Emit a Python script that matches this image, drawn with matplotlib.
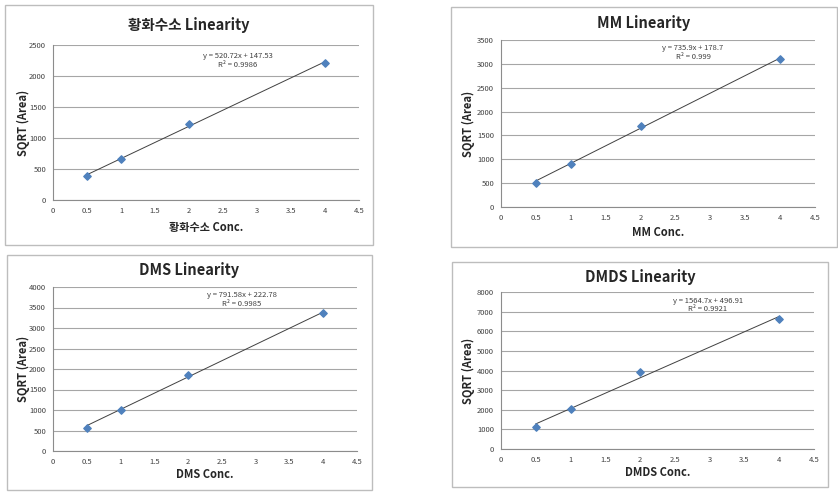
"""Four Excel-style linearity charts (sulfur compounds calibration)."""

import numpy as np
import matplotlib
matplotlib.use("Agg")
import matplotlib.pyplot as plt
from matplotlib.patches import Rectangle

plt.rcParams['font.family'] = ['Noto Sans CJK KR', 'DejaVu Sans']

W, H = 838, 497

conc = [0.5, 1, 2, 4]

h2s_area = [380, 665, 1230, 2215]
mm_area = [510, 910, 1690, 3105]
dms_area = [570, 1010, 1860, 3360]
dmds_area = [1100, 2050, 3920, 6630]

names = ["황화수소", "MM", "DMS", "DMDS"]
slopes = [520.72, 735.9, 791.58, 1564.7]
intercepts = [147.53, 178.7, 222.78, 496.91]
r2_values = ["0.9986", "0.999", "0.9985", "0.9921"]
y_max = [2500, 3500, 4000, 8000]
y_step = [500, 500, 500, 1000]
x_ticks = [0, 0.5, 1, 1.5, 2, 2.5, 3, 3.5, 4, 4.5]

# pixel layout: box (l, t, r, b), axes (l, t, r, b), title y, xlabel y, ylabel x, eq (x, y1, y2)
layout = [
    dict(box=(5, 5, 373, 245), ax=(53, 45, 359, 200), title_y=25, xl_y=228, yl_x=23, eq=(238, 56, 65)),
    dict(box=(451, 7, 837, 247), ax=(501, 40, 815, 207), title_y=23, xl_y=232, yl_x=468, eq=(693, 48, 57)),
    dict(box=(7, 255, 372, 490), ax=(53, 287, 357, 451), title_y=270, xl_y=475, yl_x=23, eq=(242, 295, 304)),
    dict(box=(452, 262, 828, 487), ax=(501, 292, 814, 449), title_y=277, xl_y=473, yl_x=468, eq=(708, 301, 309)),
]

fig = plt.figure(figsize=(W / 100, H / 100), dpi=100)


def fx(px):
    return px / W


def fy(py):
    return 1 - py / H


areas = [h2s_area, mm_area, dms_area, dmds_area]

for i, lay in enumerate(layout):
    bl, bt, br, bb = lay["box"]
    fig.patches.append(Rectangle((fx(bl), fy(bb)), fx(br) - fx(bl), fy(bt) - fy(bb),
                                 transform=fig.transFigure, fill=False,
                                 edgecolor="#bdbdbd", linewidth=1.0))

    al, at, ar, ab = lay["ax"]
    ax = fig.add_axes([fx(al), fy(ab), fx(ar) - fx(al), fy(at) - fy(ab)])
    ax.set_xlim(0, 4.5)
    ax.set_ylim(0, y_max[i])
    ax.set_xticks(x_ticks)
    ax.set_xticklabels([f"{t:g}" for t in x_ticks])
    ax.set_yticks(np.arange(0, y_max[i] + 1, y_step[i]))
    ax.tick_params(labelsize=5.5, colors="#404040", length=0, pad=5)
    ax.grid(axis="y", color="#a6a6a6", linewidth=0.8)
    ax.set_axisbelow(True)
    for side in ["top", "right"]:
        ax.spines[side].set_visible(False)
    for side in ["left", "bottom"]:
        ax.spines[side].set_color("#8c8c8c")
        ax.spines[side].set_linewidth(0.8)

    # trendline from the fitted equation
    xs = np.array([conc[0], conc[-1]])
    ax.plot(xs, slopes[i] * xs + intercepts[i], color="#404040", linewidth=0.7, zorder=2)
    ax.scatter(conc, areas[i], marker="D", s=14, color="#4f81bd", zorder=3)

    bc = (bl + br) / 2
    fig.text(fx(bc), fy(lay["title_y"]), f"{names[i]} Linearity", ha="center", va="center",
             fontsize=10.5, fontweight="bold", color="#262626")
    fig.text(fx((al + ar) / 2), fy(lay["xl_y"]), f"{names[i]} Conc.", ha="center", va="center",
             fontsize=8, fontweight="bold", color="#262626")
    fig.text(fx(lay["yl_x"]), fy((at + ab) / 2), "SQRT (Area)", ha="center", va="center",
             rotation=90, fontsize=8, fontweight="bold", color="#262626")
    ex, ey1, ey2 = lay["eq"]
    fig.text(fx(ex), fy(ey1), f"y = {slopes[i]:g}x + {intercepts[i]:g}", ha="center", va="center",
             fontsize=5.5, color="#404040")
    fig.text(fx(ex), fy(ey2), f"R² = {r2_values[i]}", ha="center", va="center",
             fontsize=5.5, color="#404040")

fig.savefig("out.png", dpi=100, facecolor="white")
